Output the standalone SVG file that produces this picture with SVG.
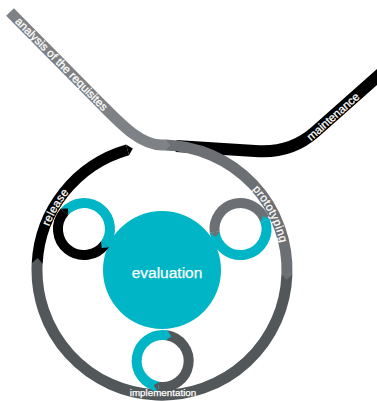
<svg xmlns="http://www.w3.org/2000/svg" width="377" height="401" viewBox="0 0 377 401">
<style>
.band{fill:none;stroke-linecap:butt;stroke-linejoin:round}
.main{stroke-width:11}
.loop{stroke-width:10}
.k{stroke:#000}
.g1{stroke:#7e8286}
.g2{stroke:#6c7074}
.g3{stroke:#52585a}
.t{stroke:#00b5c5}
.fk{fill:#000}
.fg1{fill:#7e8286}
.fg2{fill:#6c7074}
.fg3{fill:#52585a}
.ft{fill:#00b5c5}
.lbl{font-family:"Liberation Sans",Arial,sans-serif;fill:#fff;font-size:11.5px;stroke:#fff;stroke-width:0.25px}
</style>
<defs>
<path id="p-release" d="M43.03,247.95 A121,121 0 0 1 85.03,176.63"/>
<path id="p-proto" d="M244.06,181.08 A121,121 0 0 1 282.02,254.63"/>
</defs>
<rect width="377" height="401" fill="#fff"/>
<g id="connectors">
  <g id="maintenance">
    <path class="band k" stroke-width="12" d="M176,146 L255,151 Q290,154 315,132 L385,70"/>
  </g>
  <g id="cycle">
    <path class="band main g2" d="M165.27,145.04 A125,125 0 0 1 286.92,274.36"/>
    <path class="band main g3" d="M286.92,274.36 A125,125 0 1 1 37.17,263.46"/>
    <path class="band main k" d="M37.17,263.46 A125,125 0 0 1 127.55,149.84"/>
    <polygon class="fg2" points="292.42,274.55 286.62,279.81 281.43,274.17"/>
    <polygon class="fg3" points="31.68,263.17 37.57,258.02 42.66,263.75"/>
    <polygon class="fk" points="126.03,144.56 132.82,148.45 129.06,155.13"/>
  </g>
  <g id="analysis">
    <path class="band main g1" d="M10,12 L100,103 C121,124 140,145 162,145 A125,125 0 0 1 165.27,145.04"/>
    <polygon class="fg1" points="165.42,139.54 170.72,145.30 165.13,150.54"/>
  </g>
</g>
<g id="evaluation">
  <circle cx="162" cy="270" r="59" class="ft"/>
  <text class="lbl" x="167" y="278" text-anchor="middle" style="font-size:15.5px">evaluation</text>
</g>
<g id="loop-release">
  <path class="band loop t" d="M64.38,211.94 A26,26 0 0 1 105.03,244.28"/>
  <path class="band loop k" d="M105.03,244.28 A26,26 0 1 1 64.38,211.94"/>
  <polygon class="fk" points="60.60,208.66 67.99,208.51 68.15,215.22"/>
  <polygon class="ft" points="109.08,247.22 101.73,248.02 100.99,241.34"/>
</g>
<g id="loop-prototyping">
  <path class="band loop g2" d="M214.69,232.17 A26,26 0 0 1 265.08,220.54"/>
  <path class="band loop t" d="M265.08,220.54 A26,26 0 1 1 214.69,232.17"/>
  <polygon class="fg2" points="209.73,232.78 215.77,237.03 219.66,231.56"/>
  <polygon class="ft" points="269.81,218.91 263.02,216 260.36,222.16"/>
</g>
<g id="loop-implementation">
  <path class="band loop g3" d="M166.62,335.25 A26,26 0 1 1 158.49,386.61"/>
  <path class="band loop t" d="M158.49,386.61 A26,26 0 0 1 166.62,335.25"/>
  <polygon class="ft" points="167.31,330.30 171.46,336.42 165.92,340.20"/>
  <polygon class="fg3" points="157.62,391.53 153.68,385.27 159.35,381.68"/>
</g>
<g id="labels">
  <text class="lbl" transform="translate(61.7,64) rotate(45.3)" x="0" y="4" text-anchor="middle">analysis of the requisites</text>
  <text class="lbl" transform="translate(333,116.5) rotate(-41.5)" x="0" y="4" text-anchor="middle">maintenance</text>
  <text class="lbl" letter-spacing="0.3"><textPath href="#p-release" startOffset="50%" text-anchor="middle">release</textPath></text>
  <text class="lbl" letter-spacing="0.4"><textPath href="#p-proto" startOffset="50%" text-anchor="middle">prototyping</textPath></text>
  <text class="lbl" x="163" y="396" text-anchor="middle" style="font-size:9.8px">implementation</text>
</g>
</svg>
